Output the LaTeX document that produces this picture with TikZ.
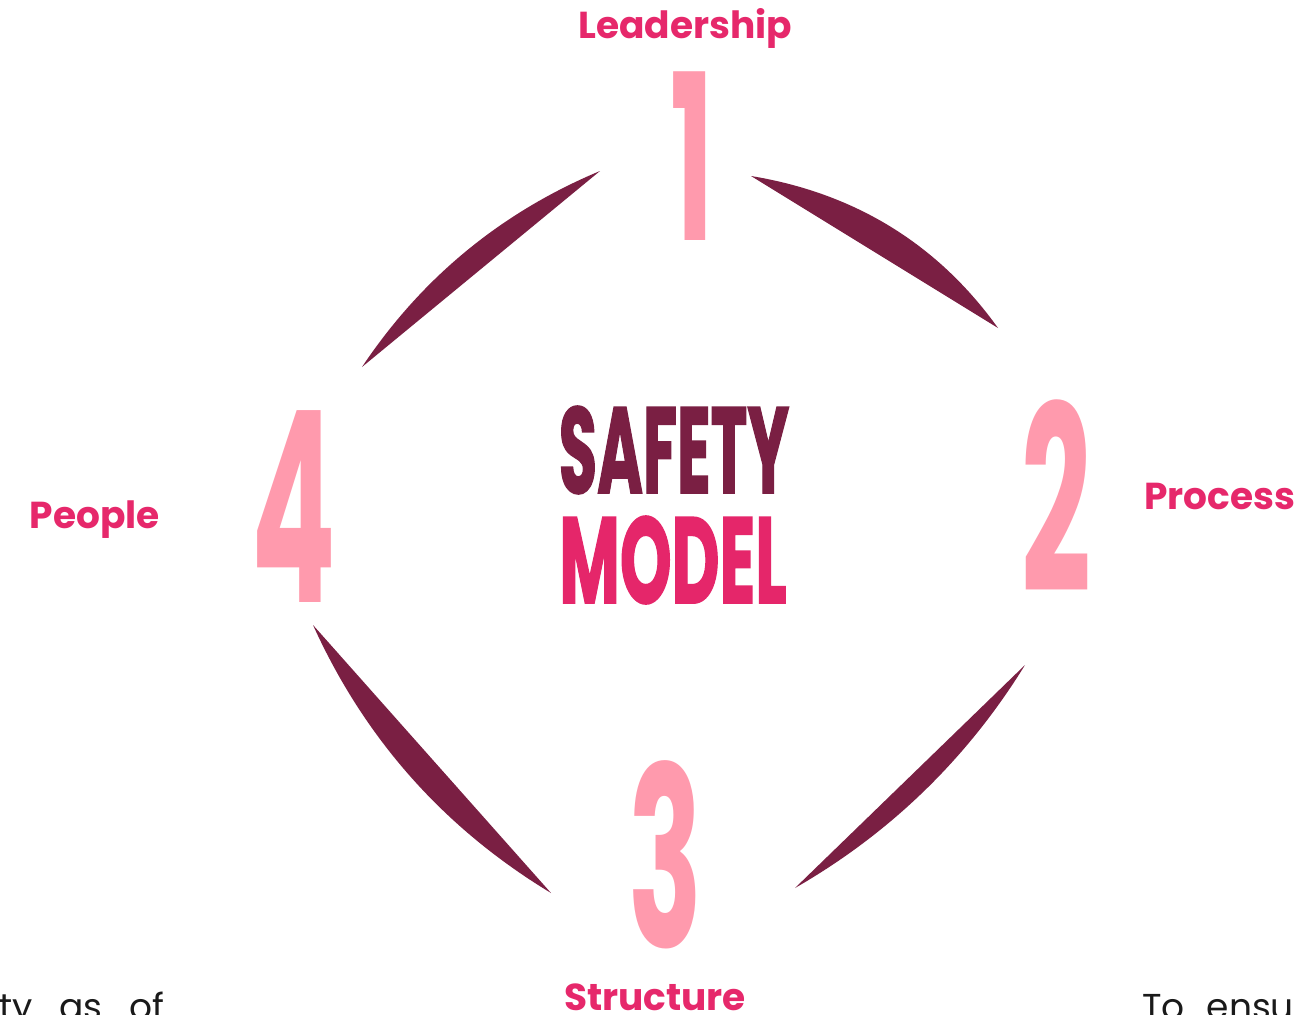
\documentclass[tikz,border=0pt]{standalone}
\usepackage{fontspec}
\setmainfont{Poppins}
\newfontfamily\digitfont{Poppins}
\newfontfamily\safefont[FakeBold=1.6]{Poppins}
\definecolor{maroon}{HTML}{7A1F43}
\definecolor{numpink}{HTML}{FF9AAD}
\definecolor{labelpink}{HTML}{E6286B}
\definecolor{modelpink}{HTML}{E5266A}
\definecolor{bodyink}{HTML}{1A1A1A}
\tikzset{
  crescent/.style={fill=maroon, draw=none},
  numeral/.style={text=numpink, inner sep=0pt, anchor=center,
    font=\digitfont\bfseries\fontsize{136}{136}\selectfont},
  steplabel/.style={text=labelpink, inner sep=0pt, anchor=base,
    font=\bfseries\fontsize{37.5}{37.5}\selectfont},
  titleword/.style={inner sep=0pt, anchor=center,
    font=\safefont\bfseries\fontsize{122}{122}\selectfont},
  bodytext/.style={text=bodyink, inner sep=0pt, anchor=base west,
    font=\fontsize{36}{36}\selectfont},
}
\begin{document}
\begin{tikzpicture}[x=1pt, y=-1pt]
\useasboundingbox (0,0) rectangle (1300,1014);
\clip (0,0) rectangle (1300,1014);
\fill[white] (0,0) rectangle (1300,1014);

% crescents
\fill[crescent] (600,171) -- (362,367) .. controls (421.6,277.8) and (501,212.4) .. cycle;
\fill[crescent] (751,176) -- (998,328) .. controls (937,243) and (854,193) .. cycle;
\fill[crescent] (1025,665) -- (795,888) .. controls (890.5,833.1) and (967.1,758.7) .. cycle;
\fill[crescent] (313,625) -- (551,893) .. controls (444,828.3) and (364.6,738.9) .. cycle;

% numerals
\node[numeral] (n1) at (692,156) {\scalebox{0.85}[1.7]{1}};
\node[numeral] (n2) at (1056,496) {\scalebox{0.9}[1.9]{2}};
\node[numeral] (n3) at (666,855) {\scalebox{0.9}[1.84]{3}};
\node[numeral] (n4) at (294,507) {\scalebox{0.92}[1.96]{4}};

% title
\node[titleword, text=maroon] (safety) at (674,450) {\scalebox{0.51}[1]{SAFETY}};
\node[titleword, text=modelpink] (model) at (673,560) {\scalebox{0.54}[1]{MODEL}};

% labels
\node[steplabel] (lead) at (685,39) {Leadership};
\node[steplabel] (proc) at (1220,509) {Process};
\node[steplabel] (stru) at (655,1010) {Structure};
\node[steplabel] (peop) at (95,528) {People};

% cut-off body text
\node[bodytext] (bl) at (-1,1019) {\spaceskip=27pt ty as of};
\node[bodytext] (br) at (1142,1019) {\spaceskip=22pt To ensu};
\end{tikzpicture}
\end{document}
